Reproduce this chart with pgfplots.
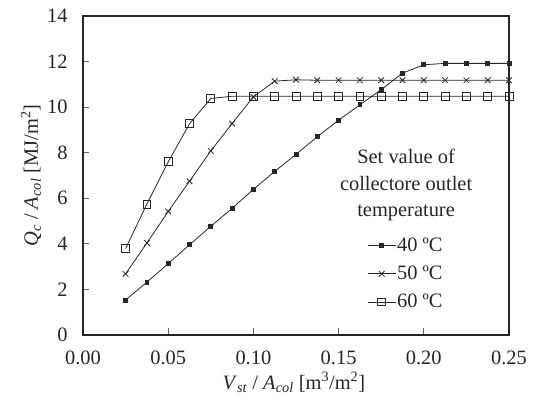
\documentclass[border=0pt]{standalone}
\usepackage{fontspec}
\setmainfont{Liberation Serif}
\usepackage{pgfplots}
\pgfplotsset{compat=1.18}
\begin{document}
\begin{tikzpicture}
\begin{axis}[
  scale only axis, width=426bp, height=319bp,
  xmin=0, xmax=0.25, ymin=0, ymax=14,
  xtick={0,0.05,0.1,0.15,0.2,0.25},
  ytick={0,2,4,6,8,10,12,14},
  xtick pos=bottom, ytick pos=left,
  tick align=inside,
  /pgf/number format/assume math mode=true,
  tick label style={font=\fontsize{20.5}{24}\selectfont, text=black!85},
  xticklabel style={yshift=-12bp, /pgf/number format/fixed, /pgf/number format/fixed zerofill, /pgf/number format/precision=2},
  yticklabel style={xshift=-12bp},
  every axis y label/.style={at={(axis description cs:-0.122,0.5)}, rotate=90, anchor=center, font=\fontsize{20.5}{24}\selectfont, text=black!85},
  every axis x label/.style={at={(axis description cs:0.495,-0.148)}, anchor=center, font=\fontsize{20.5}{24}\selectfont, text=black!85},
  major tick length=6.5bp,
  axis line style={line width=1.2pt, black!85},
  every tick/.style={black!60, line width=0.8pt},
  xlabel={\textit{V}\textsubscript{\textit{st}} / \textit{A}\textsubscript{\textit{col}} [m\textsuperscript{3}/m\textsuperscript{2}]},
  ylabel={\textit{Q}\textsubscript{\textit{c}} / \textit{A}\textsubscript{\textit{col}} [MJ/m\textsuperscript{2}]},
  legend style={at={(axis cs:0.1667,4.3)}, anchor=north west, draw=none, fill=none,
    font=\fontsize{20.5}{24}\selectfont, text=black!85, inner sep=0pt, row sep=11bp,
    nodes={inner sep=1bp}},
  legend cell align=left,
  legend image code/.code={\draw[mark repeat=2,mark phase=2] plot coordinates {(0bp,0bp) (14bp,0bp) (28bp,0bp)};},
]
\addplot[black!85, line width=0.8pt, mark=square*, mark size=2pt, mark options={solid}] coordinates {
(0.025,1.54) (0.0375,2.32) (0.05,3.13) (0.0625,3.96) (0.075,4.77) (0.0875,5.56) (0.1,6.39) (0.1125,7.18) (0.125,7.93) (0.1375,8.70) (0.15,9.43) (0.1625,10.10) (0.175,10.77) (0.1875,11.49) (0.2,11.86) (0.2125,11.92) (0.225,11.92) (0.2375,11.92) (0.25,11.92)};
\addlegendentry{40 ºC}
\addplot[black!85, line width=0.8pt, mark=x, mark size=4pt] coordinates {
(0.025,2.68) (0.0375,4.04) (0.05,5.42) (0.0625,6.75) (0.075,8.08) (0.0875,9.28) (0.1,10.45) (0.1125,11.14) (0.125,11.2) (0.1375,11.18) (0.15,11.18) (0.1625,11.18) (0.175,11.18) (0.1875,11.18) (0.2,11.18) (0.2125,11.18) (0.225,11.18) (0.2375,11.18) (0.25,11.18)};
\addlegendentry{50 ºC}
\addplot[black!85, line width=0.8pt, mark=square, mark size=4pt, mark options={fill=white}] coordinates {
(0.025,3.79) (0.0375,5.75) (0.05,7.60) (0.0625,9.27) (0.075,10.38) (0.0875,10.48) (0.1,10.48) (0.1125,10.48) (0.125,10.48) (0.1375,10.48) (0.15,10.48) (0.1625,10.48) (0.175,10.48) (0.1875,10.48) (0.2,10.48) (0.2125,10.48) (0.225,10.48) (0.2375,10.48) (0.25,10.48)};
\addlegendentry{60 ºC}
\node[align=center, font=\fontsize{20.5}{26.5}\selectfont, text=black!85] at (axis cs:0.1896,6.58) {Set value of\\collectore outlet\\temperature};
\end{axis}
\pgfresetboundingbox
\path ([xshift=-83bp,yshift=-75bp]current axis.south west) rectangle ([xshift=27bp,yshift=16bp]current axis.north east);
\end{tikzpicture}
\end{document}
